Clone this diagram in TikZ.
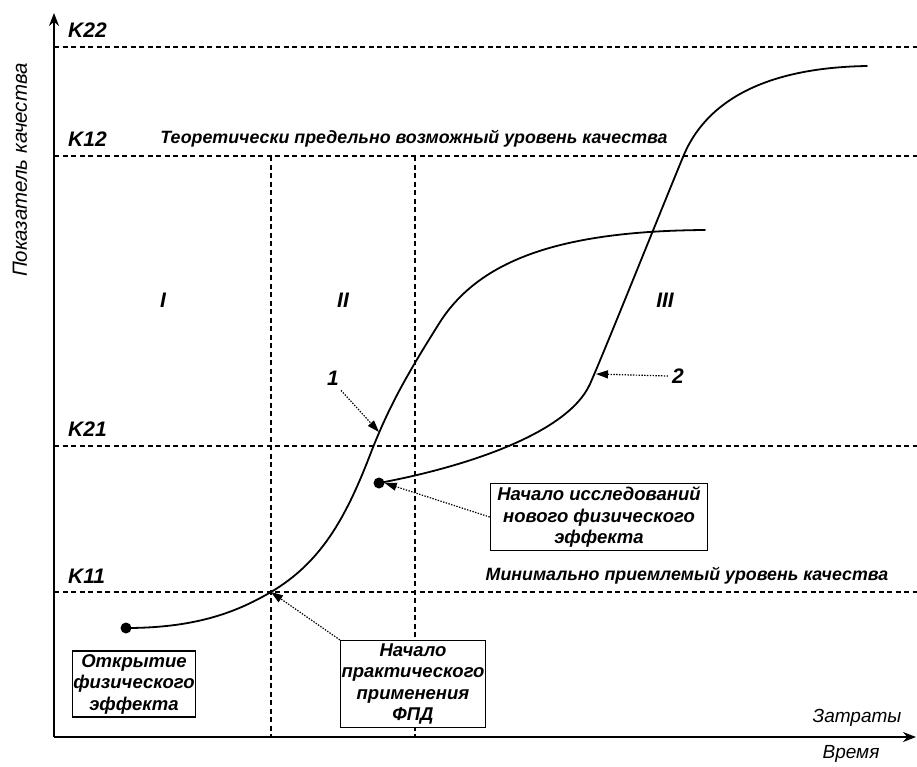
\documentclass[tikz,border=0pt]{standalone}
\usepackage{fontspec}
\setmainfont{Liberation Sans}
\usetikzlibrary{arrows.meta}

\begin{document}
\begin{tikzpicture}[x=1pt,y=-1pt,
  lbl/.style={font=\fontsize{17.8}{22}\selectfont\bfseries\itshape, inner sep=0pt},
  big/.style={font=\fontsize{21}{24}\selectfont\bfseries\itshape, inner sep=0pt},
  axlbl/.style={font=\fontsize{19}{23}\selectfont\itshape, inner sep=0pt},
  lvl/.style={line width=1.3pt, dash pattern=on 5pt off 3.5pt},
  curve/.style={line width=1.8pt, line cap=round},
  axis/.style={line width=1.8pt, -{Stealth[length=13pt,width=10pt]}},
  ptr/.style={line width=1.2pt, dash pattern=on 1.4pt off 1.4pt,
              -{Triangle[length=12pt,width=8pt]}},
  infobox/.style={draw, fill=white, line width=1.3pt, align=center, inner xsep=1pt, inner ysep=3pt,
                  font=\fontsize{18.5}{21.5}\selectfont\bfseries\itshape},
  dot/.style={circle, fill, inner sep=0pt, minimum size=11pt}]

\useasboundingbox (0,0) rectangle (917,766);

% axes
\coordinate (O) at (54,737);
\coordinate (ytop) at (54,13);
\coordinate (xend) at (916,737);
\draw[axis] (O) -- (ytop);
\draw[axis] (O) -- (xend);
\node[axlbl, rotate=90, font=\fontsize{20.5}{24}\selectfont\itshape] (ylab) at (20,170) {Показатель качества};
\node[axlbl] (xlab1) at (857,718) {Затраты};
\node[axlbl] (xlab2) at (851,754) {Время};

% quality levels
\draw[lvl] (54,47) -- (917,47);
\draw[lvl] (54,156) -- (917,156);
\draw[lvl] (54,446) -- (917,446);
\draw[lvl] (54,592) -- (917,592);
\node[big, anchor=west] (k22) at (68,30) {K22};
\node[big, anchor=west] (k12) at (68,139) {K12};
\node[big, anchor=west] (k21) at (68,429) {K21};
\node[big, anchor=west] (k11) at (68,576) {K11};
\node[lbl] (tmax) at (414,139) {Теоретически предельно возможный уровень качества};
\node[lbl] (tmin) at (687,576) {Минимально приемлемый уровень качества};

% stage boundaries
\draw[lvl] (271,156) -- (271,737);
\draw[lvl] (415,156) -- (415,737);
\node[big] (st1) at (163,300) {I};
\node[big] (st2) at (343,300) {II};
\node[big] (st3) at (665,300) {III};

% S-curve 1
\node[dot] (d1) at (126,628) {};
\coordinate (c1k11) at (271,592);
\coordinate (c1mid) at (379,432);
\draw[curve] (d1.center) .. controls (200,628) and (240,610) .. (c1k11)
  .. controls (320,563) and (345,520) .. (370,455)
  .. controls (390,403) and (410,370) .. (440,322)
  .. controls (480,260) and (560,231) .. (705,230);

% S-curve 2
\node[dot] (d2) at (379,483) {};
\coordinate (c2mid) at (596,374);
\draw[curve] (d2.center) .. controls (460,468) and (567,435) .. (590,384)
  .. controls (605,350) and (655,225) .. (683,157)
  .. controls (700,115) and (745,68) .. (867,66);

% curve labels
\node[big] (n1) at (333,378) {1};
\node[big] (n2) at (678,376) {2};
\draw[ptr] (n1.south east) ++(2,5) coordinate (n1t) -- (c1mid);
\draw[ptr] (n2.west) ++(-4,0) coordinate (n2t) -- (c2mid);

% event boxes
\node[infobox] (bopen) at (134,684) {Открытие\\физического\\эффекта};
\node[infobox] (bpract) at (413,684) {Начало\\практического\\применения\\ФПД};
\node[infobox, inner xsep=7pt] (bnew) at (599,517) {Начало исследований\\нового физического\\эффекта};
\draw[ptr] (bpract.north west) -- (c1k11);
\draw[ptr] (bnew.west) -- (d2.east);
\end{tikzpicture}
\end{document}
